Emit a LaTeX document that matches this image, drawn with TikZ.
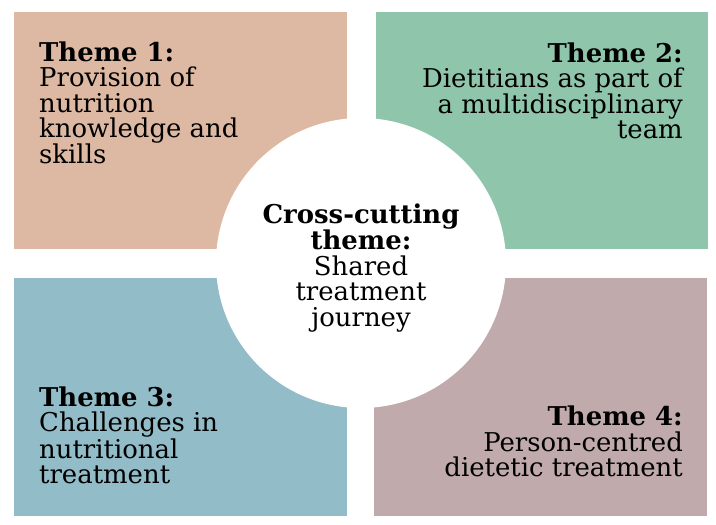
\documentclass[tikz,border=0pt]{standalone}
\usepackage{fontspec}
\setmainfont{DejaVu Serif}
\definecolor{tone}{HTML}{DDB9A3}
\definecolor{ttwo}{HTML}{8FC6AB}
\definecolor{tthree}{HTML}{92BCC7}
\definecolor{tfour}{HTML}{C0AAAB}
\tikzset{
  panel/.style={draw=none, fill=#1},
  themetext/.style={inner sep=0pt, font=\fontsize{26}{25.5}\selectfont, text=black}
}
\begin{document}
\begin{tikzpicture}[x=1bp,y=-1bp]
\useasboundingbox (0,0) rectangle (716,525);
\fill[white] (0,0) rectangle (716,525);
\path[panel=tone] (14,12) rectangle (347,249);
\path[panel=ttwo] (376,12) rectangle (708,249);
\path[panel=tthree] (14,278) rectangle (347,516);
\path[panel=tfour] (374,278) rectangle (707,516);
\node[circle, fill=white, minimum size=290bp, inner sep=0pt] (hub) at (361,263) {};
\node[themetext, align=left, anchor=base west] (t1) at (39,164)
  {\textbf{Theme 1:}\\Provision of\\nutrition\\knowledge and\\skills};
\node[themetext, align=right, anchor=base east] (t2) at (683,138.5)
  {\textbf{Theme 2:}\\Dietitians as part of\\a multidisciplinary\\team};
\node[themetext, align=left, anchor=base west] (t3) at (39,483.5)
  {\textbf{Theme 3:}\\Challenges in\\nutritional\\treatment};
\node[themetext, align=right, anchor=base east] (t4) at (683,476.5)
  {\textbf{Theme 4:}\\Person-centred\\dietetic treatment};
\node[themetext, align=center, anchor=base] (cc) at (361,326)
  {\textbf{Cross-cutting}\\\textbf{theme:}\\Shared\\treatment\\journey};
\end{tikzpicture}
\end{document}
